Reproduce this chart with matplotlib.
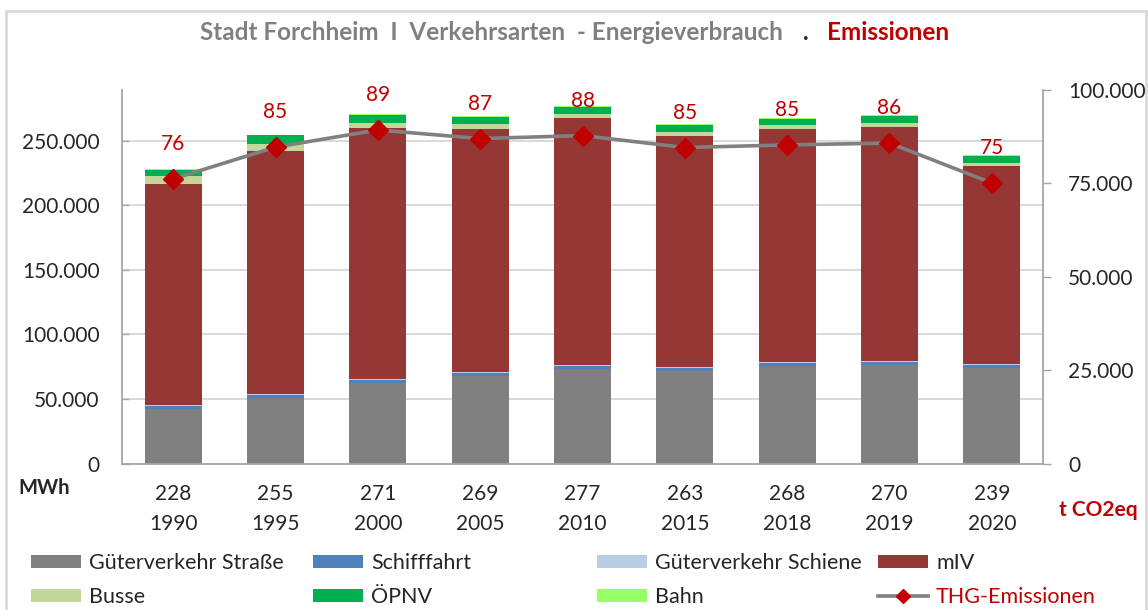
import matplotlib.pyplot as plt
import matplotlib.ticker as mticker
from matplotlib.patches import Patch, Rectangle
from matplotlib.lines import Line2D
import numpy as np

plt.rcParams['font.family'] = ['Lato', 'DejaVu Sans']

# Daten (MWh bzw. t CO2eq)
jahre = ['1990', '1995', '2000', '2005', '2010', '2015', '2018', '2019', '2020']
gueter_strasse = [42500, 51000, 62400, 67600, 73500, 71500, 75600, 76600, 73800]
schifffahrt = [2200, 2400, 2300, 2200, 2300, 2200, 2200, 2200, 2200]
gueter_schiene = [800, 700, 700, 800, 700, 800, 800, 900, 800]
miv = [171300, 188100, 194400, 188500, 191400, 179100, 180300, 180900, 154100]
busse = [6200, 5200, 4400, 3900, 2800, 3100, 3100, 3100, 2100]
oepnv = [4400, 7000, 6200, 5400, 5700, 5700, 5400, 5700, 5400]
bahn = [600, 600, 600, 600, 600, 600, 600, 600, 600]
thg = [76200, 84700, 89300, 87000, 87800, 84600, 85300, 85800, 75100]

serien = [
    ('Güterverkehr Straße', gueter_strasse, '#808080'),
    ('Schifffahrt', schifffahrt, '#4F81BD'),
    ('Güterverkehr Schiene', gueter_schiene, '#B9CDE5'),
    ('mIV', miv, '#953735'),
    ('Busse', busse, '#C4D79B'),
    ('ÖPNV', oepnv, '#00B050'),
    ('Bahn', bahn, '#99FF66'),
]

ROT = '#C00000'
GRAU = '#808080'


def de_fmt(v, pos=None):
    return '{:,.0f}'.format(v).replace(',', '.')


W, H = 1148, 610
fig = plt.figure(figsize=(W / 100, H / 100), dpi=100)
ax = fig.add_axes([122 / W, 1 - 463.5 / H, (1043 - 122) / W, (463.5 - 90) / H])
ax2 = ax.twinx()

x = np.arange(len(jahre))
unten = np.zeros(len(jahre))
for name, werte, farbe in serien:
    ax.bar(x, werte, width=0.56, bottom=unten, color=farbe, linewidth=0, zorder=2)
    unten = unten + np.array(werte)

summen = [int(round(s / 1000)) for s in unten]

ax.set_xlim(-0.5, len(jahre) - 0.5)
ax.set_ylim(0, 289500)
ax.yaxis.set_major_locator(mticker.MultipleLocator(50000))
ax.yaxis.set_major_formatter(mticker.FuncFormatter(de_fmt))
ax.grid(axis='y', color='#D9D9D9', lw=1.4, zorder=0)
ax.set_axisbelow(True)
ax.set_xticks(x)
ax.set_xticklabels(['%d\n%s' % (s, j) for s, j in zip(summen, jahre)], linespacing=1.62)
ax.tick_params(axis='x', length=0, pad=15, labelsize=15, colors='#262626')
ax.tick_params(axis='y', direction='in', length=5, width=1, color='#A6A6A6', pad=16,
               labelsize=15, labelcolor='#262626')

# THG-Emissionen auf der rechten Achse
ax2.plot(x, thg, color=GRAU, lw=2.6, marker='D', markersize=10,
         markerfacecolor=ROT, markeredgecolor=ROT, zorder=5)
for xi, v in zip(x, thg):
    ax2.annotate(str(int(round(v / 1000))), (xi, v), xytext=(0, 25), textcoords='offset points',
                 ha='center', va='center', color=ROT, fontsize=15)
ax2.set_ylim(0, 100000)
ax2.yaxis.set_major_locator(mticker.MultipleLocator(25000))
ax2.yaxis.set_major_formatter(mticker.FuncFormatter(de_fmt))
ax2.tick_params(axis='y', direction='out', length=6, width=1, color='#A6A6A6', pad=12,
                labelsize=15, labelcolor='#262626')

for a in (ax, ax2):
    for s in a.spines.values():
        s.set_visible(False)
ax.spines['left'].set_visible(True)
ax.spines['bottom'].set_visible(True)
ax2.spines['right'].set_visible(True)
for s in (ax.spines['left'], ax.spines['bottom'], ax2.spines['right']):
    s.set_color('#A6A6A6')
    s.set_linewidth(1.3)

# Titel
ty = 1 - 32 / H
fig.text(200 / W, ty, 'Stadt Forchheim  I  Verkehrsarten  - Energieverbrauch', color=GRAU,
         fontsize=17.5, fontweight='bold', ha='left', va='center')
fig.text(806 / W, ty, '.', color='#262626', fontsize=17.5, fontweight='bold', ha='center', va='center')
fig.text(827 / W, ty, 'Emissionen', color=ROT, fontsize=17.5, fontweight='bold', ha='left', va='center')

fig.text(18 / W, 1 - 488 / H, 'MWh', fontsize=14.5, fontweight='bold', color='#262626', ha='left', va='center')
fig.text(1059 / W, 1 - 510 / H, 't CO2eq', fontsize=15, fontweight='bold', color=ROT, ha='left', va='center')

# Legende in 4 Spalten
handles = [Patch(facecolor=f, edgecolor='none', label=n) for n, _, f in serien]
handles.append(Line2D([], [], color=GRAU, lw=2.6, marker='D', markersize=7,
                      markerfacecolor=ROT, markeredgecolor=ROT, label='THG-Emissionen'))
spalten_x = [31, 313, 597, 878]
for i, sx in enumerate(spalten_x):
    hs = [handles[i], handles[i + 4]] if i + 4 < len(handles) else [handles[i]]
    leg = fig.legend(handles=hs, loc='center left', bbox_to_anchor=(sx / W, 1 - 580 / H),
                     frameon=False, fontsize=15.5, handlelength=2.3, handleheight=0.55,
                     handletextpad=0.4, labelspacing=0.68, borderpad=0, borderaxespad=0)
    for t in leg.get_texts():
        t.set_color(ROT if t.get_text() == 'THG-Emissionen' else '#262626')

fig.patches.append(Rectangle((6 / W, -0.1), (1146 - 6) / W, 1.1 - 11 / H, transform=fig.transFigure,
                             fill=False, edgecolor='#D9D9D9', lw=2))

fig.savefig('out.png', dpi=100)
